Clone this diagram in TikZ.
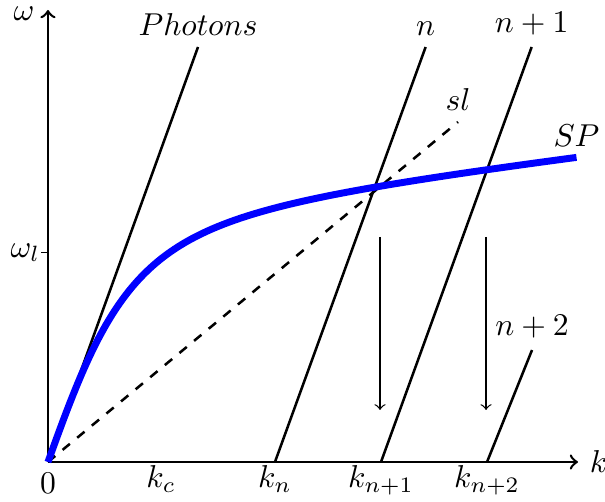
\documentclass[tikz,border=0pt]{standalone}
\begin{document}
\begin{tikzpicture}[
        axis/.style={
            ->,
            thick
        },
        branch/.style={
            thick
        },
        spcurve/.style={
            line width=2.2pt,
            draw=blue
        },
        drop/.style={
            ->,
            thin
        },
        klbl/.style={
            below,
            inner sep=1pt
        }
    ]
    \useasboundingbox (-0.533,-0.444) rectangle (6.189,5.133);

    % axes
    \coordinate (O) at (0,0);
    \coordinate (xend) at (5.889,0);
    \coordinate (yend) at (0,5.022);
    \draw[axis] (O) -- (xend) node[right] (klab) {$k$};
    \draw[axis] (O) -- (yend);
    \node[inner sep=1pt] (wlab) at (-0.267,4.98) {$\omega$};
    \node[below] (zero) at (O) {$0$};

    \coordinate (wl) at (0,2.326);
    \draw (wl) -- ++(-0.08,0) coordinate (wltick) node[left, inner sep=0pt] (wllab) {$\omega_l$};

    \node[klbl] (kc) at (1.256,0) {$k_c$};

    % light line and folded lines
    \draw[branch] (O) -- (1.667,4.611) coordinate (tph) node[above] (phlab) {$Photons$};

    \foreach \x/\i/\sub in {2.522/1/n, 3.7/2/n+1, 4.878/3/n+2} {
        \coordinate (k\i) at (\x,0);
        \node[klbl] (kl\i) at (k\i) {$k_{\sub}$};
    }

    \draw[branch] (k1) -- ++(1.674,4.611) coordinate (t1) node[above] (nl1) {$n$};
    \draw[branch] (k2) -- ++(1.674,4.611) coordinate (t2) node[above] (nl2) {$n+1$};
    \draw[branch] (k3) -- ++(0.5,1.244) coordinate (t3) node[above] (nl3) {$n+2$};

    \draw[branch, dashed] (O) -- (4.556,3.778) coordinate (tsl) node[above] (sllab) {$sl$};

    % surface plasmon
    \draw[spcurve, domain=0:5.874, samples=120, smooth]
        plot (\x, {0.12*\x + 2.65*\x/sqrt(1+0.949*\x*\x)}) coordinate (tsp);
    \node[above] (splab) at (tsp) {$SP$};

    \foreach \x/\i in {3.689/1, 4.867/2} {
        \coordinate (a\i) at (\x,2.5);
        \coordinate (b\i) at (\x,0.578);
        \draw[drop] (a\i) -- (b\i);
    }

\end{tikzpicture}
\end{document}
